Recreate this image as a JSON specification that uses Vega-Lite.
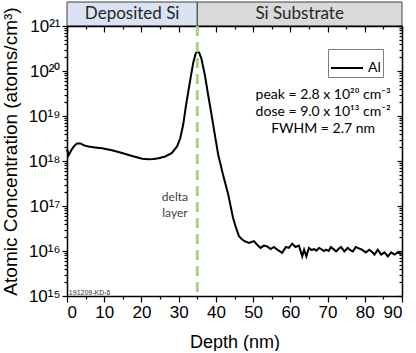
{
  "$schema": "https://vega.github.io/schema/vega-lite/v6.json",
  "background": "white",
  "padding": {"left": 1, "top": 1, "right": 5, "bottom": 0},
  "spacing": 0,
  "bounds": "flush",
  "resolve": {"scale": {"x": "independent", "color": "independent"}, "legend": {"color": "independent"}},
  "config": {
    "view": {"stroke": null},
    "axis": {"domainColor": "black", "domainWidth": 1.5, "tickColor": "black", "tickWidth": 1.2, "grid": false,
      "labelFont": "Liberation Sans", "labelFontSize": 17, "labelColor": "black",
      "titleFont": "Liberation Sans", "titleFontWeight": "normal", "titleColor": "black"}
  },
  "vconcat": [
    {
      "width": 335, "height": 24,
      "data": {"values": [
        {"region": "Deposited Si", "start": 0, "end": 35, "center": 17.5},
        {"region": "Si Substrate", "start": 35, "end": 90, "center": 62.5}
      ]},
      "layer": [
        {"mark": {"type": "rect", "stroke": "#404040", "strokeWidth": 1},
         "encoding": {
           "x": {"field": "start", "type": "quantitative", "scale": {"domain": [0, 90], "nice": false, "zero": false}, "axis": null},
           "x2": {"field": "end"},
           "color": {"field": "region", "type": "nominal", "scale": {"domain": ["Deposited Si", "Si Substrate"], "range": ["#dae3f3", "#d9d9d9"]}, "legend": null}
         }},
        {"mark": {"type": "text", "font": "Lato", "fontSize": 17, "color": "#262626", "baseline": "middle"},
         "encoding": {
           "x": {"field": "center", "type": "quantitative"},
           "text": {"field": "region", "type": "nominal"}
         }}
      ]
    },
    {
      "width": 335, "height": 270,
      "layer": [
        {
          "data": {"values": [
            {"depth": 0.0, "conc": 1.82e18, "element": "Al"},
            {"depth": 0.45, "conc": 1.35e18, "element": "Al"},
            {"depth": 1.3, "conc": 1.82e18, "element": "Al"},
            {"depth": 2.0, "conc": 2.19e18, "element": "Al"},
            {"depth": 2.7, "conc": 2.45e18, "element": "Al"},
            {"depth": 3.6, "conc": 2.45e18, "element": "Al"},
            {"depth": 4.5, "conc": 2.24e18, "element": "Al"},
            {"depth": 5.8, "conc": 2.09e18, "element": "Al"},
            {"depth": 7.5, "conc": 2.0e18, "element": "Al"},
            {"depth": 9.4, "conc": 1.91e18, "element": "Al"},
            {"depth": 12.1, "conc": 1.74e18, "element": "Al"},
            {"depth": 14.8, "conc": 1.51e18, "element": "Al"},
            {"depth": 17.5, "conc": 1.29e18, "element": "Al"},
            {"depth": 20.2, "conc": 1.12e18, "element": "Al"},
            {"depth": 21.9, "conc": 1.10e18, "element": "Al"},
            {"depth": 23.3, "conc": 1.11e18, "element": "Al"},
            {"depth": 24.6, "conc": 1.15e18, "element": "Al"},
            {"depth": 26.4, "conc": 1.26e18, "element": "Al"},
            {"depth": 28.2, "conc": 1.51e18, "element": "Al"},
            {"depth": 29.6, "conc": 2.14e18, "element": "Al"},
            {"depth": 30.4, "conc": 3.16e18, "element": "Al"},
            {"depth": 31.2, "conc": 6.3e18, "element": "Al"},
            {"depth": 32.0, "conc": 1.78e19, "element": "Al"},
            {"depth": 33.0, "conc": 5.6e19, "element": "Al"},
            {"depth": 33.9, "conc": 1.51e20, "element": "Al"},
            {"depth": 34.5, "conc": 2.34e20, "element": "Al"},
            {"depth": 35.0, "conc": 2.8e20, "element": "Al"},
            {"depth": 35.5, "conc": 2.57e20, "element": "Al"},
            {"depth": 36.1, "conc": 1.9e20, "element": "Al"},
            {"depth": 37.0, "conc": 8.5e19, "element": "Al"},
            {"depth": 37.9, "conc": 3.0e19, "element": "Al"},
            {"depth": 38.8, "conc": 1.1e19, "element": "Al"},
            {"depth": 39.7, "conc": 3.9e18, "element": "Al"},
            {"depth": 40.6, "conc": 1.41e18, "element": "Al"},
            {"depth": 41.9, "conc": 5.0e17, "element": "Al"},
            {"depth": 43.3, "conc": 1.82e17, "element": "Al"},
            {"depth": 44.6, "conc": 5.5e16, "element": "Al"},
            {"depth": 45.4, "conc": 3.3e16, "element": "Al"},
            {"depth": 46.2, "conc": 2.14e16, "element": "Al"},
            {"depth": 47.0, "conc": 1.82e16, "element": "Al"},
            {"depth": 47.7, "conc": 1.66e16, "element": "Al"},
            {"depth": 48.9, "conc": 1.51e16, "element": "Al"},
            {"depth": 50.2, "conc": 1.66e16, "element": "Al"},
            {"depth": 51.1, "conc": 1.38e16, "element": "Al"},
            {"depth": 52.0, "conc": 1.17e16, "element": "Al"},
            {"depth": 52.9, "conc": 1.32e16, "element": "Al"},
            {"depth": 53.8, "conc": 1.26e16, "element": "Al"},
            {"depth": 54.7, "conc": 1.10e16, "element": "Al"},
            {"depth": 55.6, "conc": 1.23e16, "element": "Al"},
            {"depth": 56.5, "conc": 1.07e16, "element": "Al"},
            {"depth": 57.8, "conc": 9.1e15, "element": "Al"},
            {"depth": 58.8, "conc": 1.23e16, "element": "Al"},
            {"depth": 59.6, "conc": 1.17e16, "element": "Al"},
            {"depth": 60.5, "conc": 1.45e16, "element": "Al"},
            {"depth": 61.4, "conc": 1.23e16, "element": "Al"},
            {"depth": 62.3, "conc": 1.32e16, "element": "Al"},
            {"depth": 63.2, "conc": 7.6e15, "element": "Al"},
            {"depth": 63.7, "conc": 1.07e16, "element": "Al"},
            {"depth": 64.3, "conc": 7.6e15, "element": "Al"},
            {"depth": 65.0, "conc": 1.17e16, "element": "Al"},
            {"depth": 65.7, "conc": 1.05e16, "element": "Al"},
            {"depth": 66.4, "conc": 1.10e16, "element": "Al"},
            {"depth": 67.0, "conc": 1.02e16, "element": "Al"},
            {"depth": 67.7, "conc": 1.17e16, "element": "Al"},
            {"depth": 68.2, "conc": 1.12e16, "element": "Al"},
            {"depth": 69.0, "conc": 1.0e16, "element": "Al"},
            {"depth": 69.6, "conc": 1.07e16, "element": "Al"},
            {"depth": 70.3, "conc": 1.0e16, "element": "Al"},
            {"depth": 70.9, "conc": 1.23e16, "element": "Al"},
            {"depth": 71.6, "conc": 1.10e16, "element": "Al"},
            {"depth": 72.3, "conc": 9.8e15, "element": "Al"},
            {"depth": 73.0, "conc": 1.12e16, "element": "Al"},
            {"depth": 73.6, "conc": 1.23e16, "element": "Al"},
            {"depth": 74.5, "conc": 9.8e15, "element": "Al"},
            {"depth": 75.4, "conc": 1.17e16, "element": "Al"},
            {"depth": 76.1, "conc": 1.05e16, "element": "Al"},
            {"depth": 76.8, "conc": 9.8e15, "element": "Al"},
            {"depth": 77.6, "conc": 1.23e16, "element": "Al"},
            {"depth": 78.3, "conc": 1.15e16, "element": "Al"},
            {"depth": 79.0, "conc": 1.10e16, "element": "Al"},
            {"depth": 80.3, "conc": 9.3e15, "element": "Al"},
            {"depth": 81.2, "conc": 1.07e16, "element": "Al"},
            {"depth": 82.0, "conc": 9.5e15, "element": "Al"},
            {"depth": 82.6, "conc": 8.3e15, "element": "Al"},
            {"depth": 83.5, "conc": 1.07e16, "element": "Al"},
            {"depth": 84.4, "conc": 8.3e15, "element": "Al"},
            {"depth": 85.3, "conc": 9.3e15, "element": "Al"},
            {"depth": 86.2, "conc": 7.6e15, "element": "Al"},
            {"depth": 87.1, "conc": 9.3e15, "element": "Al"},
            {"depth": 88.0, "conc": 8.3e15, "element": "Al"},
            {"depth": 88.9, "conc": 9.3e15, "element": "Al"},
            {"depth": 89.5, "conc": 8.7e15, "element": "Al"},
            {"depth": 90.0, "conc": 8.9e15, "element": "Al"}
          ]},
          "mark": {"type": "line", "strokeWidth": 2},
          "encoding": {
            "x": {"field": "depth", "type": "quantitative",
              "scale": {"domain": [0, 90], "nice": false, "zero": false},
              "axis": {"orient": "bottom", "values": [0,5,10,15,20,25,30,35,40,45,50,55,60,65,70,75,80,85,90], "format": "d",
                "labelExpr": "datum.value % 10 == 0 ? datum.label : ''",
                "tickSize": {"condition": {"test": "datum.value % 10 == 0", "value": 6}, "value": 3},
                "labelPadding": 2, "labelOverlap": false, "title": "Depth (nm)", "titleFontSize": 18, "titlePadding": 13}},
            "y": {"field": "conc", "type": "quantitative",
              "scale": {"type": "log", "domain": [1e15, 1e21], "nice": false},
              "axis": {"orient": "left",
                "values": [1e15,2e15,3e15,4e15,5e15,6e15,7e15,8e15,9e15,1e16,2e16,3e16,4e16,5e16,6e16,7e16,8e16,9e16,1e17,2e17,3e17,4e17,5e17,6e17,7e17,8e17,9e17,1e18,2e18,3e18,4e18,5e18,6e18,7e18,8e18,9e18,1e19,2e19,3e19,4e19,5e19,6e19,7e19,8e19,9e19,1e20,2e20,3e20,4e20,5e20,6e20,7e20,8e20,9e20,1e21],
                "labelExpr": "abs(log(datum.value)/LN10 - round(log(datum.value)/LN10)) < 0.01 ? ['10¹⁵','10¹⁶','10¹⁷','10¹⁸','10¹⁹','10²⁰','10²¹'][round(log(datum.value)/LN10) - 15] : ''",
                "tickSize": {"condition": {"test": "abs(log(datum.value)/LN10 - round(log(datum.value)/LN10)) < 0.01", "value": 5}, "value": 3},
                "labelPadding": 2, "labelOverlap": false,
                "title": "Atomic Concentration (atoms/cm³)", "titleFontSize": 19, "titlePadding": 8, "titleY": 125}},
            "color": {"field": "element", "type": "nominal",
              "scale": {"domain": ["Al"], "range": ["black"]},
              "legend": {"orient": "none", "legendX": 261, "legendY": 23, "title": null,
                "symbolType": "stroke", "symbolSize": 1024, "symbolStrokeWidth": 2,
                "labelFont": "Lato", "labelFontSize": 14, "labelColor": "black", "labelOffset": 4,
                "strokeColor": "#7f7f7f", "fillColor": "white", "padding": 2}}
          }
        },
        {
          "data": {"values": [{"tag": "191209-KD-6"}]},
          "mark": {"type": "text", "font": "Liberation Sans", "fontSize": 7, "align": "left", "baseline": "middle", "color": "#333333"},
          "encoding": {
            "x": {"datum": 0.5, "type": "quantitative",
              "axis": {"orient": "top", "values": [0,5,10,15,20,25,30,35,40,45,50,55,60,65,70,75,80,85,90], "labels": false, "title": null,
                "tickSize": {"condition": {"test": "datum.value % 10 == 0", "value": -6}, "value": -3}}},
            "y": {"datum": 1.17e15, "type": "quantitative",
              "axis": {"orient": "right", "labels": false, "title": null,
                "values": [1e15,2e15,3e15,4e15,5e15,6e15,7e15,8e15,9e15,1e16,2e16,3e16,4e16,5e16,6e16,7e16,8e16,9e16,1e17,2e17,3e17,4e17,5e17,6e17,7e17,8e17,9e17,1e18,2e18,3e18,4e18,5e18,6e18,7e18,8e18,9e18,1e19,2e19,3e19,4e19,5e19,6e19,7e19,8e19,9e19,1e20,2e20,3e20,4e20,5e20,6e20,7e20,8e20,9e20,1e21],
                "tickSize": {"condition": {"test": "abs(log(datum.value)/LN10 - round(log(datum.value)/LN10)) < 0.01", "value": -5}, "value": -3}}},
            "text": {"field": "tag", "type": "nominal"}
          }
        },
        {
          "data": {"values": [{"depth": 35}]},
          "mark": {"type": "rule", "color": "#a9d18e", "strokeWidth": 3, "strokeDash": [10, 6]},
          "encoding": {
            "x": {"field": "depth", "type": "quantitative", "axis": null}
          }
        },
        {
          "data": {"values": [{"note": "peak = 2.8 x 10²⁰ cm⁻³"}]},
          "mark": {"type": "text", "font": "Lato", "fontSize": 14, "color": "black", "align": "center", "baseline": "middle"},
          "encoding": {
            "x": {"datum": 68.8, "type": "quantitative", "axis": null},
            "y": {"datum": 2.93e19, "type": "quantitative", "axis": null},
            "text": {"field": "note", "type": "nominal"}
          }
        },
        {
          "data": {"values": [{"note": "dose = 9.0 x 10¹³ cm⁻²"}]},
          "mark": {"type": "text", "font": "Lato", "fontSize": 14, "color": "black", "align": "center", "baseline": "middle"},
          "encoding": {
            "x": {"datum": 68.8, "type": "quantitative", "axis": null},
            "y": {"datum": 1.23e19, "type": "quantitative", "axis": null},
            "text": {"field": "note", "type": "nominal"}
          }
        },
        {
          "data": {"values": [{"note": "FWHM = 2.7 nm"}]},
          "mark": {"type": "text", "font": "Lato", "fontSize": 14, "color": "black", "align": "center", "baseline": "middle"},
          "encoding": {
            "x": {"datum": 68.8, "type": "quantitative", "axis": null},
            "y": {"datum": 5.14e18, "type": "quantitative", "axis": null},
            "text": {"field": "note", "type": "nominal"}
          }
        },
        {
          "data": {"values": [{"note": "delta"}]},
          "mark": {"type": "text", "font": "Lato", "fontSize": 12, "color": "#404040", "align": "center", "baseline": "middle"},
          "encoding": {
            "x": {"datum": 29.0, "type": "quantitative", "axis": null},
            "y": {"datum": 1.6e17, "type": "quantitative", "axis": null},
            "text": {"field": "note", "type": "nominal"}
          }
        },
        {
          "data": {"values": [{"note": "layer"}]},
          "mark": {"type": "text", "font": "Lato", "fontSize": 12, "color": "#404040", "align": "center", "baseline": "middle"},
          "encoding": {
            "x": {"datum": 29.0, "type": "quantitative", "axis": null},
            "y": {"datum": 7.0e16, "type": "quantitative", "axis": null},
            "text": {"field": "note", "type": "nominal"}
          }
        }
      ],
      "resolve": {"axis": {"x": "independent", "y": "independent"}}
    }
  ]
}
